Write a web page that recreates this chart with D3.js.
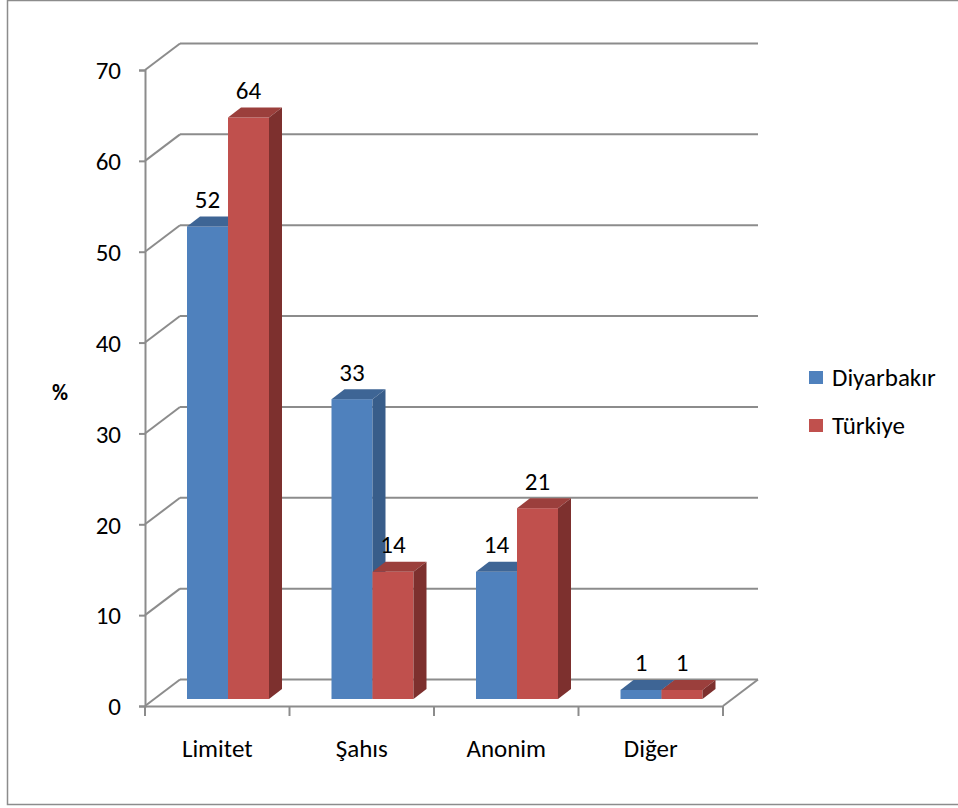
<!DOCTYPE html>
<html><head><meta charset="utf-8">
<script src="https://cdn.jsdelivr.net/npm/d3@7"></script>
<style>body{margin:0;background:#fff}svg{display:block}text{font-family:Carlito,Lato,"Open Sans",sans-serif;fill:#000}</style>
</head><body><svg id="c" width="958" height="808"></svg>
<script>
const categories = ["Limitet","Şahıs","Anonim","Diğer"];
const seriesNames = ["Diyarbakır","Türkiye"];
const diyarbakir = [52,33,14,1];
const turkiye = [64,14,21,1];
const yTicks = [0,10,20,30,40,50,60,70];

const colors = {
  "Diyarbakır": {front:"#4F81BD", top:"#3E6595", side:"#385D8A"},
  "Türkiye": {front:"#C0504D", top:"#9B3F3C", side:"#7D302E"}
};
const values = {"Diyarbakır": diyarbakir, "Türkiye": turkiye};
const FS = "25px";

const svg = d3.select("#c");
const grid = "#8C8C8C";
svg.append("rect").attr("x",7.5).attr("y",0.5).attr("width",1000).attr("height",804)
  .attr("fill","none").attr("stroke","#8C8C8C").attr("stroke-width",1.5);

const x = d3.scaleBand().domain(categories).range([145,723]);
const y = d3.scaleLinear().domain([0,70]).range([706,70]);
const wallDX = 35, wallDY = -26.5;
const barOY = -7;
const barDX = 13, barDY = -10;
const inner = d3.scaleBand().domain(seriesNames).range([0,82]);

const g = svg.append("g").attr("stroke",grid).attr("stroke-width",2).attr("fill","none");
yTicks.forEach(t=>{
  const yy = y(t);
  g.append("line").attr("x1",145).attr("y1",yy).attr("x2",145+wallDX).attr("y2",yy+wallDY);
  g.append("line").attr("x1",145+wallDX).attr("y1",yy+wallDY).attr("x2",723+wallDX).attr("y2",yy+wallDY);
});
g.append("line").attr("x1",723).attr("y1",y(0)).attr("x2",723+wallDX).attr("y2",y(0)+wallDY);

const yAxis = d3.axisLeft(y).tickValues(yTicks).tickSize(6).tickPadding(18);
const ya = svg.append("g").attr("transform","translate(145,0)").call(yAxis);
ya.select(".domain").attr("stroke",grid).attr("stroke-width",2);
ya.selectAll(".tick line").attr("stroke",grid).attr("stroke-width",2);
ya.selectAll("text").style("font-size",FS).attr("dy","0.35em");

const xAxis = d3.axisBottom(x).tickSize(0).tickPadding(33);
const xa = svg.append("g").attr("transform",`translate(0,${y(0)})`).call(xAxis);
xa.select(".domain").attr("stroke",grid).attr("stroke-width",2);
xa.selectAll("text").style("font-size",FS);
const sep = d3.range(categories.length+1).map(i=>145 + i*x.step());
svg.append("g").selectAll("line").data(sep).join("line")
  .attr("x1",d=>d).attr("x2",d=>d).attr("y1",y(0)).attr("y2",y(0)+10)
  .attr("stroke",grid).attr("stroke-width",2);

const bars = svg.append("g");
categories.forEach((c,i)=>{
  seriesNames.forEach(s=>{
    const v = values[s][i];
    const x0 = x(c) + 42 + inner(s), x1 = x0 + inner.bandwidth();
    const yt = y(v) + barOY, yb = y(0) + barOY;
    const col = colors[s];
    bars.append("rect").attr("x",x0).attr("y",yt).attr("width",x1-x0).attr("height",yb-yt).attr("fill",col.front);
    bars.append("path").attr("d",`M${x0},${yt}L${x0+barDX},${yt+barDY}L${x1+barDX},${yt+barDY}L${x1},${yt}Z`).attr("fill",col.top);
    bars.append("path").attr("d",`M${x1},${yt}L${x1+barDX},${yt+barDY}L${x1+barDX},${yb+barDY}L${x1},${yb}Z`).attr("fill",col.side);
    bars.append("text").attr("x",(x0+x1)/2).attr("y",yt+barDY-8.5).attr("text-anchor","middle")
      .style("font-size",FS).text(v);
  });
});

svg.append("text").attr("x",60).attr("y",400).attr("text-anchor","middle")
  .style("font-size","22px").style("font-weight","bold").text("%");

const lg = svg.append("g");
seriesNames.forEach((s,i)=>{
  const yy = 371 + i*48;
  lg.append("rect").attr("x",809).attr("y",yy).attr("width",14).attr("height",13).attr("fill",colors[s].front);
  lg.append("text").attr("x",832).attr("y",yy+15).style("font-size",FS).text(s);
});
</script></body></html>
